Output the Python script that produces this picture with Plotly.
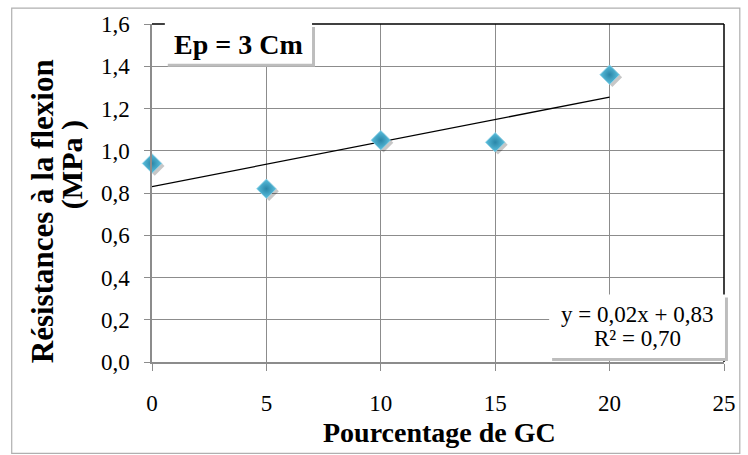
import numpy as np
import plotly.graph_objects as go

x_vals = [0, 5, 10, 15, 20]
y_vals = [0.94, 0.82, 1.05, 1.04, 1.36]
x_ticks = [0, 5, 10, 15, 20, 25]
y_ticks = [0.0, 0.2, 0.4, 0.6, 0.8, 1.0, 1.2, 1.4, 1.6]

slope, intercept = np.polyfit(x_vals, y_vals, 1)
trend_x = [min(x_vals), max(x_vals)]
trend_y = [slope * v + intercept for v in trend_x]

# pixel geometry helpers
L, R, T, B = 152, 731, 22, 362
W, H = R - L, B - T
def px(v): return (v - L) / W
def py(v): return (B - v) / H

FONT = "Liberation Serif"

fig = go.Figure()
fig.add_trace(go.Scatter(x=trend_x, y=trend_y, mode="lines",
                         line=dict(color="black", width=1.3), showlegend=False, hoverinfo="skip"))
fig.add_trace(go.Scatter(x=[v + 0.12 for v in x_vals], y=[v - 0.012 for v in y_vals], mode="markers",
                         cliponaxis=False,
                         marker=dict(symbol="diamond", size=15, color="rgba(0,0,0,0.22)",
                                     line=dict(width=0)),
                         showlegend=False, hoverinfo="skip"))
fig.add_trace(go.Scatter(x=x_vals, y=y_vals, mode="markers", cliponaxis=False,
                         marker=dict(symbol="diamond", size=15, color="#5BC0DE",
                                     gradient=dict(type="radial", color="#2A86A8"),
                                     line=dict(width=0.8, color="#8FD3E8")),
                         showlegend=False))

shapes = []
shapes.append(dict(type="rect", xref="paper", yref="paper",
                   x0=px(10), x1=px(747), y0=py(454), y1=py(6),
                   line=dict(color="#B0B0B0", width=1.2), fillcolor="rgba(0,0,0,0)", layer="below"))
shapes.append(dict(type="line", xref="paper", yref="paper", x0=0, x1=1, y0=1, y1=1,
                   line=dict(color="black", width=1.5)))
shapes.append(dict(type="line", xref="paper", yref="paper", x0=1, x1=1, y0=0, y1=1,
                   line=dict(color="black", width=1.5)))
shapes.append(dict(type="rect", xref="paper", yref="paper",
                   x0=px(168), x1=px(317), y0=py(65), y1=py(25),
                   line=dict(width=0), fillcolor="#BDBDBD"))
shapes.append(dict(type="rect", xref="paper", yref="paper",
                   x0=px(165), x1=px(314), y0=py(62), y1=py(21),
                   line=dict(width=0), fillcolor="white"))
shapes.append(dict(type="rect", xref="paper", yref="paper",
                   x0=px(557), x1=px(735), y0=py(361), y1=py(297),
                   line=dict(width=0), fillcolor="#BDBDBD"))
shapes.append(dict(type="rect", xref="paper", yref="paper",
                   x0=px(554), x1=px(732), y0=py(358), y1=py(294),
                   line=dict(width=0), fillcolor="white"))

def ann(x, y, text, size, angle=0, bold=False):
    t = f"<b>{text}</b>" if bold else text
    return dict(xref="paper", yref="paper", x=px(x), y=py(y), text=t, showarrow=False,
                font=dict(family=FONT, size=size, color="black"), textangle=angle,
                xanchor="center", yanchor="middle")

annotations = [
    ann(240, 43, "Ep = 3 Cm", 28, bold=True),
    ann(643, 314, "y = 0,02x + 0,83", 23),
    ann(643, 338, "R² = 0,70", 23),
    ann(443, 433, "Pourcentage de GC", 28, bold=True),
    ann(42, 210, "Résistances à la flexion", 31, angle=-90, bold=True),
    ann(71, 163, "(MPa )", 30, angle=-90, bold=True),
]

fig.update_layout(
    width=748, height=455,
    margin=dict(l=L, r=748 - R, t=T, b=455 - B),
    paper_bgcolor="white", plot_bgcolor="white",
    separators=", ",
    font=dict(family=FONT, color="black"),
    shapes=shapes, annotations=annotations,
    xaxis=dict(range=[0, 25], tickvals=x_ticks, showgrid=True, gridcolor="#8C8C8C", gridwidth=1.3,
               zeroline=False, showline=True, linecolor="#8C8C8C", linewidth=1.5,
               ticks="outside", ticklen=7, tickcolor="#8C8C8C", tickwidth=1.3,
               ticklabelstandoff=13,
               tickfont=dict(family=FONT, size=23, color="black")),
    yaxis=dict(range=[0, 1.6], tickvals=y_ticks, tickformat=".1f", showgrid=True, gridcolor="#8C8C8C",
               gridwidth=1.3, zeroline=False, showline=True, linecolor="#8C8C8C", linewidth=1.5,
               ticks="outside", ticklen=6, tickcolor="#8C8C8C", tickwidth=1.3,
               ticklabelstandoff=10,
               tickfont=dict(family=FONT, size=23, color="black")),
)

fig.write_html("out.html")
